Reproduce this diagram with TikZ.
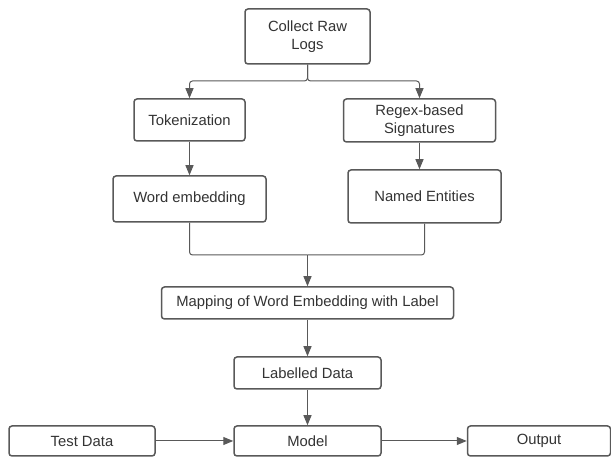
\documentclass[tikz,border=0pt]{standalone}
\usepackage{fontspec}
\setmainfont{Liberation Sans}
\usetikzlibrary{positioning,arrows.meta,calc}
\definecolor{linegray}{HTML}{595959}
\definecolor{textgray}{HTML}{333333}

\begin{document}
\begin{tikzpicture}
[
    x=1pt, y=1pt,
    font=\fontsize{14.8}{18}\selectfont,
]

\tikzstyle{step box}=[rectangle, rounded corners=3pt, draw=linegray, line width=1.5pt, fill=white, text=textgray, align=center, inner sep=0pt]
\tikzstyle{flow}=[draw=linegray, line width=1pt, rounded corners=3pt, -{Triangle[length=10pt,width=8pt]}]

\useasboundingbox (0,0) rectangle (611,457);

\node [step box, minimum width=125pt, minimum height=55pt] (collect) at (307.5,420.5) {Collect Raw\\Logs};
\node [step box, minimum width=111pt, minimum height=42pt] (token) at (189.5,337) {Tokenization};
\node [step box, minimum width=152pt, minimum height=43pt] (regex) at (419.5,336.5) {Regex-based\\Signatures};
\node [step box, minimum width=153pt, minimum height=46pt] (wordemb) at (189.5,258) {Word embedding};
\node [step box, minimum width=153pt, minimum height=53pt] (named) at (424.5,260.5) {Named Entities};
\node [step box, minimum width=292pt, minimum height=32pt] (mapping) at (307.5,154) {Mapping of Word Embedding with Label};
\node [step box, minimum width=147pt, minimum height=32pt] (labelled) at (307.5,84) {Labelled Data};
\node [step box, minimum width=147pt, minimum height=30pt] (model) at (307.5,16) {Model};
\node [step box, minimum width=146pt, minimum height=30pt] (testdata) at (82,16) {Test Data};
\node [step box, minimum width=143pt, minimum height=30pt] (output) at (539,16) {Output};

\coordinate (split) at (307.5,376);
\coordinate (merge) at (307.5,202);

\draw [flow] (collect.south) -- (split) -| (token.north);
\draw [flow] (collect.south) -- (split) -| (regex.north);
\draw [flow] (token.south) -- (wordemb.north);
\draw [flow] (regex.south) -- (regex.south |- named.north);
\draw [flow, -] (wordemb.south) |- (merge);
\draw [flow, -] (named.south) |- (merge);
\draw [flow] (merge) -- (mapping.north);
\draw [flow] (mapping.south) -- (labelled.north);
\draw [flow] (labelled.south) -- (model.north);
\draw [flow] (testdata.east) -- (model.west);
\draw [flow] (model.east) -- (output.west);
%\draw [flow, dashed] (output.north) -- (named.south);
\end{tikzpicture}
\end{document}
